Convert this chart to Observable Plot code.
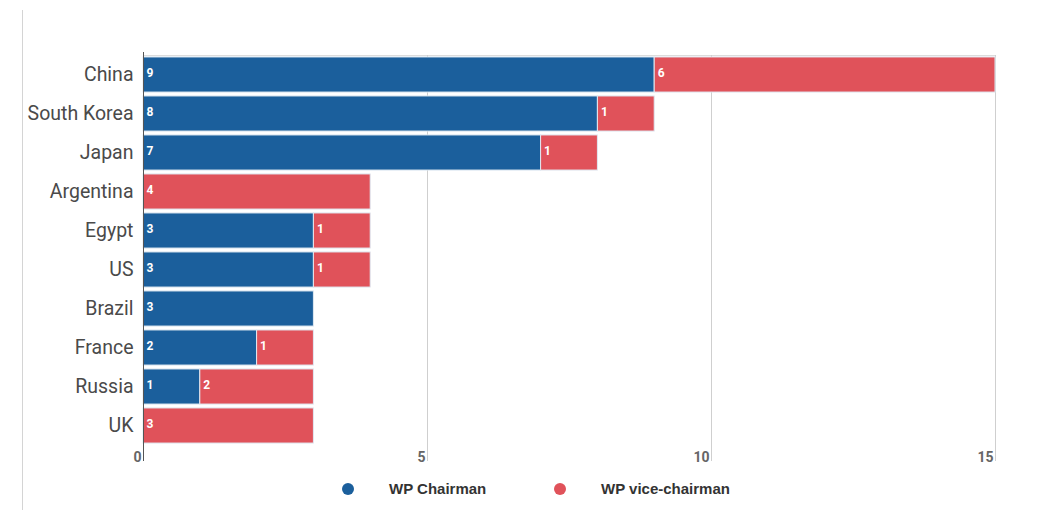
<!DOCTYPE html>
<html>
<head>
<meta charset="utf-8">
<script src="https://cdn.jsdelivr.net/npm/d3@7"></script>
<script src="https://cdn.jsdelivr.net/npm/@observablehq/plot@0.6"></script>
<style>
  body { margin: 0; background: #fff; font-family: Roboto, "Noto Sans", sans-serif; }
  #wrap { position: relative; width: 1038px; height: 512px; overflow: hidden; }
  #edge { position: absolute; left: 22px; top: 10px; width: 1px; height: 500px; background: #d4d4d4; }
  #legend { position: absolute; left: 0; top: 470px; width: 1038px; height: 42px; }
  .item { position: absolute; top: 10px; display: flex; align-items: center; font-family: "Liberation Sans", Arial, sans-serif; font-size: 15px; font-weight: 700; color: #333; }
  .dot { width: 12px; height: 12px; border-radius: 50%; margin-right: 35px; }
</style>
</head>
<body>
<div id="wrap">
  <div id="edge"></div>
  <div id="chart"></div>
  <div id="legend"></div>
</div>
<script>
// Working-party leadership positions by country
const countries = ["China", "South Korea", "Japan", "Argentina", "Egypt", "US", "Brazil", "France", "Russia", "UK"];
const chairman = [9, 8, 7, 0, 3, 3, 3, 2, 1, 0];
const viceChairman = [6, 1, 1, 4, 1, 1, 0, 1, 2, 3];
const seriesNames = ["WP Chairman", "WP vice-chairman"];
const seriesColors = ["#1b5f9c", "#e0525a"];
const xTicks = [0, 5, 10, 15];

const rows = [];
countries.forEach((c, i) => {
  rows.push({country: c, series: seriesNames[0], value: chairman[i]});
  rows.push({country: c, series: seriesNames[1], value: viceChairman[i]});
});

const chart = Plot.plot({
  width: 1038,
  height: 470,
  marginTop: 55,
  marginLeft: 143,
  marginRight: 43,
  marginBottom: 25,
  style: {fontFamily: "Roboto, 'Noto Sans', sans-serif", background: "#fff"},
  x: {domain: [0, 15]},
  y: {domain: countries, paddingInner: 0.1, paddingOuter: 0.05, round: false},
  color: {domain: seriesNames, range: seriesColors},
  marks: [
    Plot.frame({anchor: "top", stroke: "#dcdcdc"}),
    Plot.gridX({ticks: [5, 10, 15], stroke: "#cfcfcf", strokeOpacity: 1, insetBottom: -16}),
    Plot.barX(rows, Plot.stackX({x: "value", y: "country", fill: "series", stroke: "#dfe9f2", strokeWidth: 1})),
    Plot.text(rows, Plot.stackX1({
      filter: d => d.value > 0,
      x: "value", y: "country", z: "series",
      text: d => String(d.value),
      textAnchor: "start", dx: 3, dy: -2,
      fill: "white", fontWeight: 700, fontSize: 12
    })),
    Plot.ruleX([0], {stroke: "#555", strokeWidth: 1, insetTop: -3, insetBottom: -16}),
    Plot.axisY({tickSize: 0, tickPadding: 10, fontSize: 19.5, fill: "#4a4a4a", label: null}),
    Plot.axisX({ticks: xTicks, tickSize: 0, tickPadding: 7, textAnchor: "end", dx: -2, fontSize: 14, fontWeight: 700, fill: "#666", label: null})
  ]
});
document.getElementById("chart").appendChild(chart);

// Legend below the plot
const legend = document.getElementById("legend");
const legendX = [342, 554];
seriesNames.forEach((name, i) => {
  const item = document.createElement("div");
  item.className = "item";
  item.style.left = legendX[i] + "px";
  const dot = document.createElement("span");
  dot.className = "dot";
  dot.style.background = seriesColors[i];
  const label = document.createElement("span");
  label.textContent = name;
  item.appendChild(dot);
  item.appendChild(label);
  legend.appendChild(item);
});
</script>
</body>
</html>
